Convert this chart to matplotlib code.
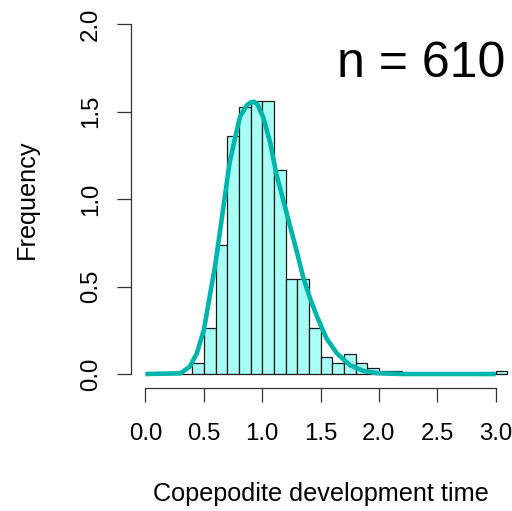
import matplotlib
matplotlib.use("Agg")
import matplotlib.pyplot as plt
import numpy as np

plt.rcParams["font.family"] = ["Liberation Sans", "DejaVu Sans"]

# histogram of development times, bins of 0.1 starting at 0.0
n_total = 610
bin_width = 0.1
bin_starts = [round(i * 0.1, 1) for i in range(31)]
counts = [0, 0, 0, 0, 4, 16, 45, 83, 93, 95, 95, 71, 33, 33, 16, 6, 4, 7, 4, 2,
          1, 1, 0, 0, 0, 0, 0, 0, 0, 0, 1]

# fitted density curve
curve_x = [0.0, 0.30, 0.38, 0.44, 0.50, 0.55, 0.60, 0.64, 0.68, 0.72, 0.77,
           0.81, 0.87, 0.90, 0.93, 0.96, 1.01, 1.07, 1.12, 1.18, 1.24, 1.30,
           1.35, 1.41, 1.47, 1.55, 1.64, 1.75, 1.87, 1.98, 2.20, 3.00]
curve_y = [0.0, 0.004, 0.042, 0.118, 0.251, 0.442, 0.632, 0.823, 1.013, 1.204,
           1.356, 1.470, 1.537, 1.552, 1.556, 1.540, 1.465, 1.318, 1.147, 0.994,
           0.842, 0.690, 0.556, 0.432, 0.328, 0.204, 0.118, 0.051, 0.017, 0.005,
           0.0, 0.0]

x_ticks = [0.0, 0.5, 1.0, 1.5, 2.0, 2.5, 3.0]
y_ticks = [0.0, 0.5, 1.0, 1.5, 2.0]
annotation = "n = 610"
x_label = "Copepodite development time"
y_label = "Frequency"

W, H = 512, 511
fig = plt.figure(figsize=(W / 100, H / 100), dpi=100)
# plot region in pixels (R-style, extends past the right edge)
left, right, top, bottom = 131, 521.8, 10, 388
ax = fig.add_axes([left / W, 1 - bottom / H, (right - left) / W, (bottom - top) / H])
ax.set_xlim(-0.124, 3.224)
ax.set_ylim(-0.08, 2.08)

density = np.array(counts) / (n_total * bin_width)
ax.bar(bin_starts, density, width=bin_width, align="edge",
       color="#A8FFF6", edgecolor="#1a1a1a", linewidth=0.9, zorder=2)
ax.plot(curve_x, curve_y, color="#00B5AC", linewidth=3.3,
        solid_capstyle="butt", zorder=3)

ax.text(2.36, 1.697, annotation, ha="center", va="baseline", fontsize=36)

for side in ("top", "right"):
    ax.spines[side].set_visible(False)
ax.spines["left"].set_bounds(0, 2)
ax.spines["bottom"].set_bounds(0, 3)
for side in ("left", "bottom"):
    ax.spines[side].set_linewidth(0.9)
    ax.spines[side].set_color("#333333")

ax.set_xticks(x_ticks)
ax.set_xticklabels([f"{v:.1f}" for v in x_ticks])
ax.set_yticks(y_ticks)
ax.set_yticklabels([f"{v:.1f}" for v in y_ticks], rotation=90, va="center")
ax.tick_params(axis="both", direction="out", length=10, width=0.9,
               color="#333333", labelsize=17.3)
ax.tick_params(axis="x", pad=15.5)
ax.tick_params(axis="y", pad=11)

fig.text(321 / W, 1 - 494 / H, x_label, ha="center", va="center", fontsize=18.2)
fig.text(27 / W, 1 - 199 / H, y_label, ha="center", va="center",
         rotation=90, fontsize=18.2)

fig.savefig("out.png", dpi=100)
